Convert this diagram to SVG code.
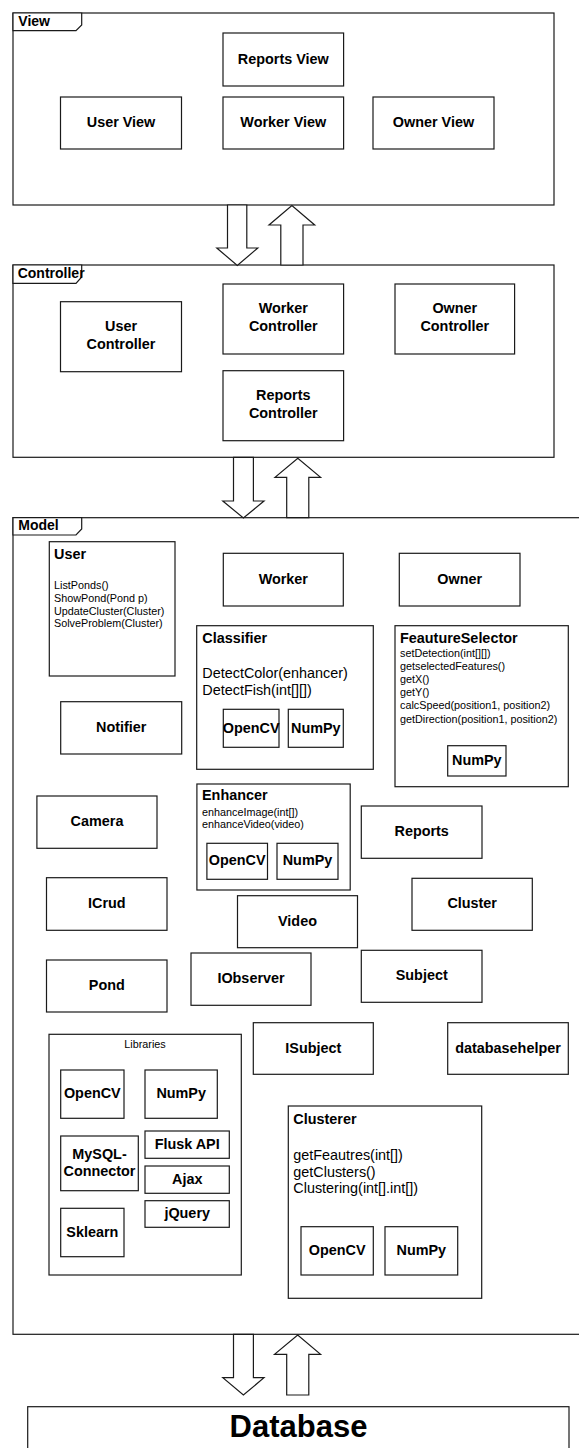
<svg xmlns="http://www.w3.org/2000/svg" width="579" height="1448" viewBox="0 0 579 1448">
  <style>
    .frame, .box { fill: #fff; stroke: #1a1a1a; stroke-width: 1.2; }
    .arrow { fill: #fff; stroke: #1a1a1a; stroke-width: 1.2; stroke-linejoin: miter; }
    text { font-family: "Liberation Sans", Arial, sans-serif; fill: #000; }
    .lbl { font-size: 14.4px; font-weight: bold; text-anchor: middle; }
    .hdr { font-size: 14.4px; font-weight: bold; }
    .tab { font-size: 14px; font-weight: bold; }
    .m { font-size: 10.8px; }
    .mm { font-size: 14.4px; }
    .cap { font-size: 10.8px; text-anchor: middle; }
    .db { font-size: 31px; font-weight: bold; text-anchor: middle; }
  </style>

  <!-- ===== View package ===== -->
  <g id="view">
    <rect class="frame" x="13" y="13" width="541" height="192"/>
    <path class="frame" d="M13,13 H81.7 V25 L76,30.7 H13 Z"/>
    <text class="tab" x="18.3" y="25.5">View</text>
  </g>
  <g id="reports-view"><rect class="box" x="223" y="33" width="120.6" height="53"/><text class="lbl" x="283.3" y="63.5">Reports View</text></g>
  <g id="user-view"><rect class="box" x="60.5" y="97" width="121" height="52"/><text class="lbl" x="121" y="127">User View</text></g>
  <g id="worker-view"><rect class="box" x="223" y="97" width="120.6" height="52"/><text class="lbl" x="283.3" y="127">Worker View</text></g>
  <g id="owner-view"><rect class="box" x="373" y="97" width="121" height="52"/><text class="lbl" x="433.5" y="127">Owner View</text></g>

  <!-- ===== Controller package ===== -->
  <g id="controller">
    <rect class="frame" x="13" y="265" width="541" height="192.3"/>
    <path class="frame" d="M13,265 H81.7 V277 L76,283.3 H13 Z"/>
    <text class="tab" x="17.7" y="277.5">Controller</text>
  </g>
  <g id="user-controller"><rect class="box" x="60.5" y="301.7" width="121" height="70"/><text class="lbl" x="121" y="331">User</text><text class="lbl" x="121" y="349">Controller</text></g>
  <g id="worker-controller"><rect class="box" x="223" y="284" width="120.6" height="70"/><text class="lbl" x="283.3" y="313.3">Worker</text><text class="lbl" x="283.3" y="331.3">Controller</text></g>
  <g id="owner-controller"><rect class="box" x="395" y="284" width="119.6" height="70"/><text class="lbl" x="454.8" y="313.3">Owner</text><text class="lbl" x="454.8" y="331.3">Controller</text></g>
  <g id="reports-controller"><rect class="box" x="223" y="370.7" width="120.6" height="70"/><text class="lbl" x="283.3" y="400">Reports</text><text class="lbl" x="283.3" y="418">Controller</text></g>

  <!-- ===== Model package ===== -->
  <g id="model">
    <rect class="frame" x="13" y="517.7" width="590" height="816.6"/>
    <path class="frame" d="M13,517.7 H81.7 V529 L76,535 H13 Z"/>
    <text class="tab" x="18.3" y="529.5">Model</text>
  </g>

  <g id="user">
    <rect class="box" x="49.3" y="541.7" width="125.7" height="134.3"/>
    <text class="hdr" x="54" y="558.5">User</text>
    <text class="m" x="54" y="589">ListPonds()</text>
    <text class="m" x="54" y="601.8">ShowPond(Pond p)</text>
    <text class="m" x="54" y="614.6">UpdateCluster(Cluster)</text>
    <text class="m" x="54" y="627.4">SolveProblem(Cluster)</text>
  </g>
  <g id="worker"><rect class="box" x="223.3" y="553.3" width="120" height="52.7"/><text class="lbl" x="283.3" y="583.7">Worker</text></g>
  <g id="owner"><rect class="box" x="399.3" y="553.3" width="120.7" height="52.7"/><text class="lbl" x="459.7" y="583.7">Owner</text></g>

  <g id="classifier">
    <rect class="box" x="196.7" y="625.7" width="176.6" height="143.6"/>
    <text class="hdr" x="202.3" y="642.5">Classifier</text>
    <text class="mm" x="202.3" y="678">DetectColor(enhancer)</text>
    <text class="mm" x="202.3" y="695">DetectFish(int[][])</text>
    <rect class="box" x="223.3" y="709.3" width="55.7" height="38"/>
    <text class="lbl" x="251.2" y="732.5">OpenCV</text>
    <rect class="box" x="288.3" y="709.3" width="55" height="38"/>
    <text class="lbl" x="315.8" y="732.5">NumPy</text>
  </g>

  <g id="feature-selector">
    <rect class="box" x="395" y="625.7" width="173.3" height="161"/>
    <text class="hdr" x="400" y="642.7">FeautureSelector</text>
    <text class="m" x="400" y="657">setDetection(int[][])</text>
    <text class="m" x="400" y="670.1">getselectedFeatures()</text>
    <text class="m" x="400" y="683.2">getX()</text>
    <text class="m" x="400" y="696.3">getY()</text>
    <text class="m" x="400" y="709.4">calcSpeed(position1, position2)</text>
    <text class="m" x="400" y="722.5">getDirection(position1, position2)</text>
    <rect class="box" x="447.7" y="745.7" width="58.3" height="30.3"/>
    <text class="lbl" x="476.8" y="765">NumPy</text>
  </g>

  <g id="notifier"><rect class="box" x="60.7" y="701.7" width="121" height="52.3"/><text class="lbl" x="121.2" y="731.8">Notifier</text></g>
  <g id="camera"><rect class="box" x="36.9" y="796" width="120.1" height="52.3"/><text class="lbl" x="97" y="826">Camera</text></g>

  <g id="enhancer">
    <rect class="box" x="196.9" y="784" width="153.3" height="106"/>
    <text class="hdr" x="202" y="800">Enhancer</text>
    <text class="m" x="202" y="815.5">enhanceImage(int[])</text>
    <text class="m" x="202" y="828">enhanceVideo(video)</text>
    <rect class="box" x="206.9" y="843.3" width="60.6" height="36"/>
    <text class="lbl" x="237.2" y="865.3">OpenCV</text>
    <rect class="box" x="277" y="843.3" width="61" height="36"/>
    <text class="lbl" x="307.5" y="865.3">NumPy</text>
  </g>

  <g id="reports"><rect class="box" x="361.3" y="806" width="120.7" height="52.3"/><text class="lbl" x="421.7" y="836">Reports</text></g>
  <g id="icrud"><rect class="box" x="46.5" y="877.7" width="120.5" height="52.6"/><text class="lbl" x="106.8" y="908">ICrud</text></g>
  <g id="video"><rect class="box" x="237.5" y="895.7" width="120" height="52"/><text class="lbl" x="297.5" y="925.7">Video</text></g>
  <g id="cluster"><rect class="box" x="412" y="878.3" width="120.3" height="52"/><text class="lbl" x="472.2" y="908.3">Cluster</text></g>
  <g id="pond"><rect class="box" x="46.5" y="960" width="120.5" height="52"/><text class="lbl" x="106.8" y="990">Pond</text></g>
  <g id="iobserver"><rect class="box" x="191" y="953" width="120" height="52.3"/><text class="lbl" x="251" y="983">IObserver</text></g>
  <g id="subject"><rect class="box" x="361.3" y="950.3" width="120.7" height="52"/><text class="lbl" x="421.7" y="980.3">Subject</text></g>
  <g id="isubject"><rect class="box" x="253.3" y="1022.7" width="120" height="51.6"/><text class="lbl" x="313.3" y="1052.5">ISubject</text></g>
  <g id="databasehelper"><rect class="box" x="447.7" y="1022.7" width="120.6" height="51.6"/><text class="lbl" x="508" y="1052.5">databasehelper</text></g>

  <g id="libraries">
    <rect class="box" x="49" y="1034.3" width="192.3" height="240.7"/>
    <text class="cap" x="145" y="1048.3">Libraries</text>
    <rect class="box" x="60.7" y="1070" width="63.3" height="48.3"/>
    <text class="lbl" x="92.3" y="1098">OpenCV</text>
    <rect class="box" x="145" y="1070" width="72.3" height="48.3"/>
    <text class="lbl" x="181.2" y="1098">NumPy</text>
    <rect class="box" x="60.7" y="1136" width="77.6" height="54.7"/>
    <text class="lbl" x="99.5" y="1158.5">MySQL-</text>
    <text class="lbl" x="99.5" y="1176.3">Connector</text>
    <rect class="box" x="145" y="1131" width="84.3" height="27.3"/>
    <text class="lbl" x="187.2" y="1148.5">Flusk API</text>
    <rect class="box" x="145" y="1166" width="84.3" height="27.3"/>
    <text class="lbl" x="187.2" y="1183.5">Ajax</text>
    <rect class="box" x="145" y="1200.7" width="84.3" height="26.6"/>
    <text class="lbl" x="187.2" y="1218">jQuery</text>
    <rect class="box" x="60.7" y="1208.3" width="63.3" height="48.4"/>
    <text class="lbl" x="92.3" y="1236.5">Sklearn</text>
  </g>

  <g id="clusterer">
    <rect class="box" x="288.3" y="1106" width="193.4" height="192.3"/>
    <text class="hdr" x="293.3" y="1123.5">Clusterer</text>
    <text class="mm" x="293.3" y="1160">getFeautres(int[])</text>
    <text class="mm" x="293.3" y="1176.5">getClusters()</text>
    <text class="mm" x="293.3" y="1193">Clustering(int[].int[])</text>
    <rect class="box" x="301" y="1226.7" width="72.3" height="48.3"/>
    <text class="lbl" x="337.2" y="1255">OpenCV</text>
    <rect class="box" x="385" y="1226.7" width="72.7" height="48.3"/>
    <text class="lbl" x="421.3" y="1255">NumPy</text>
  </g>

  <!-- ===== Database ===== -->
  <g id="database">
    <rect class="box" x="27.7" y="1406.7" width="541.3" height="60"/>
    <text class="db" x="298.5" y="1437">Database</text>
  </g>

  <!-- ===== Connectors: block arrows between layers ===== -->
  <g id="connectors">
    <polygon class="arrow" points="227.5,205 246.8,205 246.8,248 257.8,248 237.3,265.5 216.8,248 227.5,248"/>
    <polygon class="arrow" points="280.8,265 303,265 303,225 314.7,225 291.9,205.5 269,225 280.8,225"/>
    <polygon class="arrow" points="233.5,457.3 253.4,457.3 253.4,501 264,501 243.4,518 222.8,501 233.5,501"/>
    <polygon class="arrow" points="286.7,517.7 308.8,517.7 308.8,477.3 320.6,477.3 297.8,458.3 275,477.3 286.7,477.3"/>
    <polygon class="arrow" points="233.5,1334.3 253.4,1334.3 253.4,1377.7 264,1377.7 243.4,1395 222.8,1377.7 233.5,1377.7"/>
    <polygon class="arrow" points="286.7,1395 308.8,1395 308.8,1354.3 320.6,1354.3 297.7,1335 274.5,1354.3 286.7,1354.3"/>
  </g>
</svg>
